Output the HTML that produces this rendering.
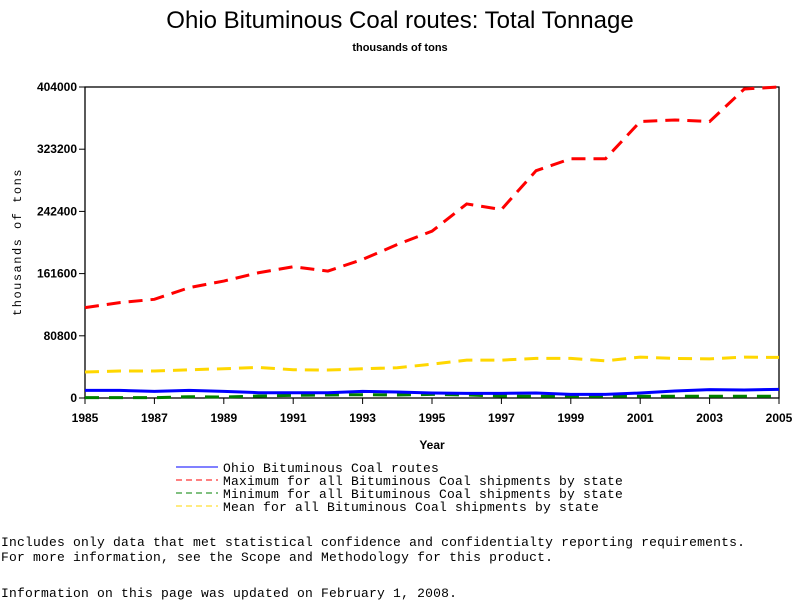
<!DOCTYPE html>
<html><head><meta charset="utf-8"><style>
body{margin:0;background:#fff;width:800px;height:600px;overflow:hidden;position:relative;font-family:"Liberation Sans",sans-serif}
.t{position:absolute;white-space:pre;color:#000}
.m{font-family:"Liberation Mono",monospace;font-size:13px;letter-spacing:0.2px}
</style></head><body>
<div class="t" style="left:0;width:800px;text-align:center;top:7px;font-size:24px;">Ohio Bituminous Coal routes: Total Tonnage</div>
<div class="t" style="left:0;width:800px;text-align:center;top:42px;font-size:11px;font-weight:bold;">thousands of tons</div>
<svg id="c" width="800" height="600" style="position:absolute;left:0;top:0"></svg>
<div class="t m" style="left:1px;top:535px;">Includes only data that met statistical confidence and confidentialty reporting requirements.
For more information, see the Scope and Methodology for this product.</div>
<div class="t m" style="left:1px;top:586px;">Information on this page was updated on February 1, 2008.</div>
<script>
const years=[1985,1986,1987,1988,1989,1990,1991,1992,1993,1994,1995,1996,1997,1998,1999,2000,2001,2002,2003,2004,2005];
const ohio=[9900,9900,8600,9900,8600,6900,6900,6900,8600,7800,6500,6000,6000,6500,4700,4700,6500,9100,10800,10400,11200];
const maxv=[117400,123900,128200,143300,151900,162700,170500,164900,180000,199400,216700,252100,244800,295300,310800,310800,359100,361200,359100,401400,404000];
const minv=[430,430,430,1700,1300,2600,3500,3900,4300,3900,4700,3900,2600,2200,2200,2200,2200,2200,2200,2200,2200];
const meanv=[33700,35000,35000,36700,38000,39700,36700,36300,38000,39300,44000,49200,49200,51400,51400,48300,53100,51400,50900,53100,52700];
const yTicks=[0,80800,161600,242400,323200,404000];
const xTicks=[1985,1987,1989,1991,1993,1995,1997,1999,2001,2003,2005];
const X0=85,X1=779,Y0=398,Y1=87;
const sx=v=>X0+(v-1985)/(2005-1985)*(X1-X0);
const sy=v=>Y0-v/404000*(Y0-Y1);
const svg=document.getElementById('c');const NS='http://www.w3.org/2000/svg';
function mk(t,a){const e=document.createElementNS(NS,t);for(const k in a)e.setAttribute(k,a[k]);svg.appendChild(e);return e;}
const frame=mk('rect',{x:X0,y:Y1,width:X1-X0,height:Y0-Y1,fill:'none',stroke:'#000','stroke-width':1.3});


yTicks.forEach(v=>{
 const l=mk('line',{x1:X0-6,x2:X0,y1:sy(v),y2:sy(v),stroke:'#000'});
 
 
 const t=mk('text',{x:X0-8,y:sy(v)+4,'text-anchor':'end','font-size':12,'font-weight':'bold','font-family':'Liberation Sans, sans-serif'});
 
 
 t.textContent=v;
});
xTicks.forEach(v=>{
 const l=mk('line',{x1:sx(v),x2:sx(v),y1:Y0,y2:Y0+6,stroke:'#000'});
 
 
 const t=mk('text',{x:sx(v),y:Y0+24,'text-anchor':'middle','font-size':12,'font-weight':'bold','font-family':'Liberation Sans, sans-serif'});
 
 
 t.textContent=v;
});
const xt=mk('text',{x:432,y:449,'text-anchor':'middle','font-size':12,'font-weight':'bold','font-family':'Liberation Sans, sans-serif'});


xt.textContent='Year';
const yt=mk('text',{x:21,y:242,'text-anchor':'middle','font-size':12,'letter-spacing':'1.5','font-family':'Liberation Mono, monospace',transform:'rotate(-90 21 242)'});


yt.textContent='thousands of tons';
function series(vals,color,dash,w,name){
 const p=mk('polyline',{points:vals.map((v,i)=>sx(years[i])+','+sy(v)).join(' '),fill:'none',stroke:color,'stroke-width':w,'stroke-dasharray':dash});
 
 
}
series(meanv,'#ffd700','14 8',3,'mean-series');
series(minv,'#008000','14 10',3,'minimum-series');
series(ohio,'#0000ff','none',3,'ohio-series');
series(maxv,'#ff0000','14 8',3,'maximum-series');
const leg=[['#0000ff','none','Ohio Bituminous Coal routes'],['#ff0000','6 4','Maximum for all Bituminous Coal shipments by state'],['#008000','6 4','Minimum for all Bituminous Coal shipments by state'],['#ffd700','6 4','Mean for all Bituminous Coal shipments by state']];
leg.forEach((d,i)=>{
 const y=467+i*13;
 const l=mk('line',{x1:176,x2:218,y1:y,y2:y,stroke:d[0],'stroke-width':1,'stroke-dasharray':d[1]});
 
 
 const t=mk('text',{x:223,y:y+5,'font-size':13,'letter-spacing':'0.2','font-family':'Liberation Mono, monospace'});
 
 
 t.textContent=d[2];
});
</script>
</body></html>
